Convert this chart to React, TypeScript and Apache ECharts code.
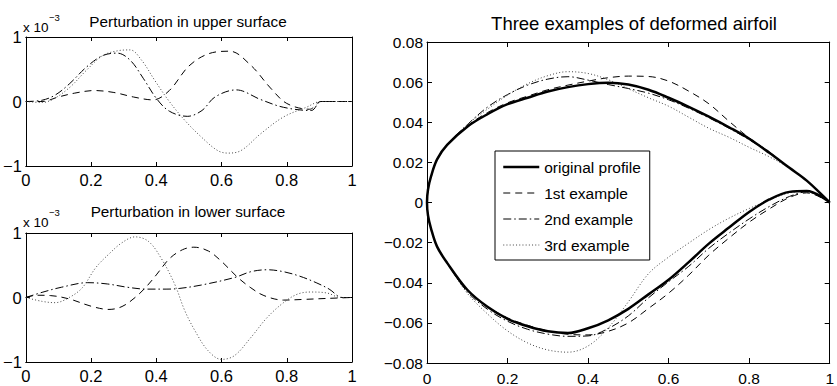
import React, { useEffect, useRef } from "react";
import * as echarts from "echarts";

// ---------- data ----------
// perturbation in upper surface (values in units of 1e-3)
const U1_X = [0, 0.05, 0.1, 0.15, 0.21, 0.27, 0.33, 0.39, 0.44, 0.5, 0.56, 0.625, 0.69, 0.75, 0.8, 0.87, 0.905, 0.95, 1];
const U1_Y = [0, 0.0, 0.07, 0.13, 0.17, 0.14, 0.07, 0.025, 0.17, 0.55, 0.74, 0.78, 0.56, 0.21, -0.03, -0.12, 0, 0, 0];
const U2_X = [0, 0.05, 0.09, 0.135, 0.185, 0.235, 0.28, 0.32, 0.36, 0.4, 0.44, 0.495, 0.54, 0.58, 0.645, 0.72, 0.79, 0.875, 0.905, 0.95, 1];
const U2_Y = [0, 0.02, 0.1, 0.28, 0.53, 0.71, 0.75, 0.64, 0.36, 0.05, -0.15, -0.23, -0.14, 0.07, 0.18, 0.03, -0.09, -0.14, 0, 0, 0];
const U3_X = [0, 0.05, 0.085, 0.135, 0.185, 0.235, 0.28, 0.32, 0.355, 0.395, 0.437, 0.487, 0.538, 0.588, 0.62, 0.66, 0.72, 0.79, 0.86, 0.905, 0.95, 1];
const U3_Y = [0, -0.015, 0.04, 0.22, 0.48, 0.71, 0.785, 0.8, 0.64, 0.33, 0.02, -0.29, -0.55, -0.76, -0.8, -0.76, -0.5, -0.24, -0.09, 0, 0, 0];

// perturbation in lower surface (values in units of 1e-3)
const L1_X = [0, 0.035, 0.075, 0.135, 0.2, 0.255, 0.295, 0.335, 0.37, 0.4, 0.44, 0.48, 0.515, 0.56, 0.6, 0.65, 0.69, 0.73, 0.79, 0.85, 0.92, 1];
const L1_Y = [0, 0.035, 0.03, -0.025, -0.135, -0.185, -0.14, 0, 0.17, 0.35, 0.6, 0.74, 0.78, 0.72, 0.56, 0.31, 0.15, 0.03, -0.04, -0.03, -0.015, 0];
const L2_X = [0, 0.05, 0.11, 0.19, 0.25, 0.31, 0.37, 0.43, 0.47, 0.54, 0.64, 0.69, 0.74, 0.79, 0.84, 0.89, 0.93, 0.97, 1];
const L2_Y = [0, 0.08, 0.16, 0.23, 0.21, 0.16, 0.13, 0.13, 0.14, 0.195, 0.31, 0.4, 0.43, 0.4, 0.33, 0.23, 0.13, 0.0, 0];
const L3_X = [0, 0.05, 0.09, 0.133, 0.173, 0.214, 0.254, 0.295, 0.335, 0.376, 0.416, 0.457, 0.487, 0.518, 0.558, 0.6, 0.64, 0.69, 0.74, 0.79, 0.832, 0.872, 0.923, 0.965, 1];
const L3_Y = [0, -0.06, -0.08, 0, 0.15, 0.46, 0.67, 0.85, 0.94, 0.87, 0.6, 0.2, -0.2, -0.51, -0.82, -0.96, -0.9, -0.62, -0.31, -0.08, 0.05, 0.085, 0.07, 0, 0];

// airfoil surfaces
const AX = [0, 0.0025, 0.01, 0.025, 0.05, 0.1, 0.15, 0.2, 0.25, 0.3, 0.35, 0.4, 0.45, 0.5, 0.55, 0.6, 0.65, 0.7, 0.75, 0.8, 0.85, 0.9, 0.943, 1];
const ORIG_UP = [0, 0.0065, 0.013, 0.0215, 0.0287, 0.0378, 0.044, 0.049, 0.0522, 0.0553, 0.0575, 0.059, 0.0597, 0.0588, 0.0562, 0.0522, 0.0477, 0.0428, 0.0375, 0.0318, 0.0248, 0.0173, 0.0109, 0];
const ORIG_LO = [0, -0.0065, -0.013, -0.022, -0.0301, -0.0435, -0.052, -0.058, -0.0617, -0.0642, -0.0651, -0.0627, -0.0587, -0.053, -0.0458, -0.0385, -0.0297, -0.0205, -0.0125, -0.0047, 0.0015, 0.0053, 0.0057, 0];
const EX1_UP = [0, 0.0065, 0.013, 0.0215, 0.0287, 0.0382, 0.0448, 0.0497, 0.053, 0.0562, 0.0585, 0.0605, 0.0622, 0.063, 0.0628, 0.0605, 0.0555, 0.0492, 0.0405, 0.0322, 0.0252, 0.0173, 0.0109, 0];
const EX1_LO = [0, -0.0065, -0.013, -0.022, -0.0301, -0.0437, -0.0518, -0.0575, -0.0612, -0.064, -0.0657, -0.066, -0.0642, -0.06, -0.0528, -0.0452, -0.0362, -0.0262, -0.0177, -0.0098, -0.0032, 0.0025, 0.0048, 0];
const EX2_UP = [0, 0.0065, 0.013, 0.0215, 0.0289, 0.0388, 0.0475, 0.0538, 0.0585, 0.0615, 0.0627, 0.061, 0.0588, 0.0568, 0.0545, 0.0512, 0.047, 0.0422, 0.037, 0.0313, 0.0248, 0.0172, 0.0108, 0];
const EX2_LO = [0, -0.0065, -0.013, -0.022, -0.0303, -0.0445, -0.0532, -0.0592, -0.0632, -0.0656, -0.0667, -0.0665, -0.0628, -0.0565, -0.0475, -0.0395, -0.0318, -0.0228, -0.0152, -0.0082, -0.002, 0.003, 0.0053, 0];
const EX3_UP = [0, 0.0065, 0.013, 0.0215, 0.0288, 0.0388, 0.0465, 0.0535, 0.0592, 0.0632, 0.0652, 0.0643, 0.0612, 0.0567, 0.0522, 0.048, 0.0425, 0.037, 0.0325, 0.0275, 0.0228, 0.0172, 0.0108, 0];
const EX3_LO = [0, -0.0065, -0.013, -0.022, -0.0303, -0.0452, -0.0555, -0.064, -0.07, -0.0735, -0.0746, -0.0715, -0.0625, -0.0495, -0.0355, -0.0272, -0.0202, -0.0135, -0.0078, -0.003, 0.0012, 0.0048, 0.0057, 0];

const LEGEND_NAMES = ["original profile", "1st example", "2nd example", "3rd example"];
const TITLE_UPPER = "Perturbation in upper surface";
const TITLE_LOWER = "Perturbation in lower surface";
const TITLE_RIGHT = "Three examples of deformed airfoil";

// ---------- helpers ----------
const FONT = "'Liberation Sans', Arial, Helvetica, sans-serif";
const zip = (xs: number[], ys: number[]) => xs.map((x, i) => [x, ys[i]]);
const loop = (up: number[], lo: number[]) => [
  ...zip(AX, up).reverse(),
  ...zip(AX, lo).slice(1),
];

const DASH = [7, 5];
const DASHDOT = [8, 3, 1.5, 3];
const DOT = [1, 2.2];
const DOT_COLOR = "#444";

const fmtX = (v: number) => {
  if (Math.abs(v) < 1e-9) return "0";
  if (Math.abs(v - 1) < 1e-9) return "1";
  return Number(v.toFixed(2)).toString();
};
const fmtY2 = (v: number) => {
  if (Math.abs(v) < 1e-9) return "0";
  return (v < 0 ? "\u2212" : "") + Math.abs(v).toFixed(2);
};
const fmtY1 = (v: number) => {
  if (Math.abs(v) < 1e-9) return "0";
  return (v < 0 ? "\u2212" : "") + Math.abs(Math.round(v)).toString();
};

function axisPair(grid: number, min: number, max: number, interval: number, fmt: (v: number) => string, isX: boolean, fontSize: number, tickLen: number, margin: number) {
  const base = {
    type: "value",
    gridIndex: grid,
    min,
    max,
    interval,
    splitLine: { show: false },
    axisLine: { show: true, onZero: false, lineStyle: { color: "#000", width: 1 } },
    axisTick: { show: true, inside: true, length: tickLen, lineStyle: { color: "#000", width: 1 } },
  };
  return [
    {
      ...base,
      position: isX ? "bottom" : "left",
      axisLabel: { show: true, formatter: fmt, color: "#000", fontSize, fontFamily: FONT, margin, hideOverlap: false },
    },
    {
      ...base,
      position: isX ? "top" : "right",
      axisLabel: { show: false },
    },
  ];
}

const lineSeries = (name: string, data: number[][], xi: number, yi: number, type: any, width = 1, color = "#000", z = 2) => ({
  type: "line",
  name,
  data,
  xAxisIndex: xi,
  yAxisIndex: yi,
  showSymbol: false,
  symbol: "none",
  smooth: 0.35,
  z,
  itemStyle: { color, opacity: 0 },
  lineStyle: { color, width, type },
  emphasis: { disabled: true },
});

export default function App() {
  const ref = useRef<HTMLDivElement>(null);

  useEffect(() => {
    if (!ref.current) return;
    const chart = echarts.init(ref.current, null, { renderer: "svg" });

    const xAxis = [
      ...axisPair(0, 0, 1, 0.2, fmtX, true, 16.5, 4, 5),
      ...axisPair(1, 0, 1, 0.2, fmtX, true, 16.5, 4, 5),
      ...axisPair(2, 0, 1, 0.2, fmtX, true, 15.5, 5, 7),
    ];
    const yAxis = [
      ...axisPair(0, -1, 1, 1, fmtY1, false, 16.5, 4, 4),
      ...axisPair(1, -1, 1, 1, fmtY1, false, 16.5, 4, 4),
      ...axisPair(2, -0.08, 0.08, 0.02, fmtY2, false, 15.5, 5, 4),
    ];

    const legendWidths = [2.5, 1, 1, 1];
    const legendTypes: any[] = ["solid", DASH, DASHDOT, DOT];
    const legendColors = ["#000", "#000", "#000", DOT_COLOR];

    const option: any = {
      animation: false,
      backgroundColor: "#fff",
      grid: [
        { left: 23, top: 37, width: 329, height: 129 },
        { left: 23, top: 233, width: 329, height: 129 },
        { left: 427, top: 42, width: 409, height: 322 },
      ],
      xAxis,
      yAxis,
      legend: {
        data: LEGEND_NAMES.map((n, i) => ({
          name: n,
          lineStyle: { width: legendWidths[i], type: legendTypes[i], color: legendColors[i] },
        })),
        orient: "vertical",
        left: 495,
        top: 151,
        itemWidth: 36,
        itemHeight: 14,
        itemGap: 10,
        padding: [8, 9, 7, 7],
        borderColor: "#000",
        borderWidth: 1,
        borderRadius: 0,
        backgroundColor: "#fff",
        selectedMode: false,
        itemStyle: { opacity: 0 },
        textStyle: { fontSize: 15.5, color: "#000", fontFamily: FONT },
      },
      graphic: [
        { type: "text", x: 188, y: 21.5, style: { text: TITLE_UPPER, fontSize: 15.3, fontFamily: FONT, fill: "#000", align: "center", verticalAlign: "middle" } },
        { type: "text", x: 188, y: 211.5, style: { text: TITLE_LOWER, fontSize: 15.3, fontFamily: FONT, fill: "#000", align: "center", verticalAlign: "middle" } },
        { type: "text", x: 634, y: 23, style: { text: TITLE_RIGHT, fontSize: 18.5, fontFamily: FONT, fill: "#000", align: "center", verticalAlign: "middle" } },
        { type: "text", x: 23, y: 27, style: { text: "x 10", fontSize: 13.5, fontFamily: FONT, fill: "#000", align: "left", verticalAlign: "middle" } },
        { type: "text", x: 49, y: 17, style: { text: "\u22123", fontSize: 9.5, fontFamily: FONT, fill: "#000", align: "left", verticalAlign: "middle" } },
        { type: "text", x: 23, y: 222.5, style: { text: "x 10", fontSize: 13.5, fontFamily: FONT, fill: "#000", align: "left", verticalAlign: "middle" } },
        { type: "text", x: 49, y: 212.5, style: { text: "\u22123", fontSize: 9.5, fontFamily: FONT, fill: "#000", align: "left", verticalAlign: "middle" } },
      ],
      series: [
        // upper perturbation (grid 0 -> axes 0)
        lineSeries("upper 1st", zip(U1_X, U1_Y), 0, 0, DASH),
        lineSeries("upper 2nd", zip(U2_X, U2_Y), 0, 0, DASHDOT),
        lineSeries("upper 3rd", zip(U3_X, U3_Y), 0, 0, DOT, 1, DOT_COLOR),
        // lower perturbation (grid 1 -> axes 2)
        lineSeries("lower 1st", zip(L1_X, L1_Y), 2, 2, DASH),
        lineSeries("lower 2nd", zip(L2_X, L2_Y), 2, 2, DASHDOT),
        lineSeries("lower 3rd", zip(L3_X, L3_Y), 2, 2, DOT, 1, DOT_COLOR),
        // airfoil (grid 2 -> axes 4)
        lineSeries(LEGEND_NAMES[0], loop(ORIG_UP, ORIG_LO), 4, 4, "solid", 2.5, "#000", 5),
        lineSeries(LEGEND_NAMES[1], loop(EX1_UP, EX1_LO), 4, 4, DASH),
        lineSeries(LEGEND_NAMES[2], loop(EX2_UP, EX2_LO), 4, 4, DASHDOT),
        lineSeries(LEGEND_NAMES[3], loop(EX3_UP, EX3_LO), 4, 4, DOT, 1, DOT_COLOR),
      ],
    };

    chart.setOption(option);
    return () => chart.dispose();
  }, []);

  return (
    <div
      ref={ref}
      style={{ position: "fixed", left: 0, top: 0, width: 837, height: 386, background: "#fff" }}
    />
  );
}
